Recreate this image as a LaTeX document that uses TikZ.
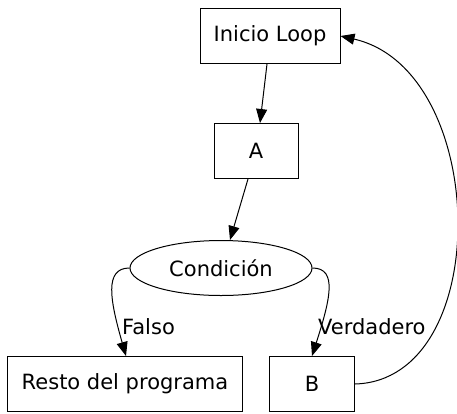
\documentclass[tikz,border=0pt]{standalone}
\usepackage{fontspec}
\setmainfont{DejaVu Sans}
\usetikzlibrary{shapes.geometric,arrows.meta}

\tikzset{
  box/.style={draw, line width=1pt, minimum height=55pt, inner sep=0pt},
  cond/.style={draw, ellipse, line width=1pt, minimum width=182pt, minimum height=55pt, inner sep=0pt},
  flow/.style={draw, line width=1pt, -{Triangle[length=14pt,width=11pt]}},
  lbl/.style={anchor=west, inner sep=0pt}
}

\begin{document}
\begin{tikzpicture}[x=1pt, y=-1pt, font=\fontsize{21}{25}\selectfont]

    \useasboundingbox (0,0) rectangle (457,413);

    \node[box, minimum width=140pt] (loop) at (270, 36) {Inicio Loop};
    \node[box, minimum width=84pt] (a) at (256, 151) {A};
    \node[cond] (cnd) at (221, 268) {Condición};
    \node[box, minimum width=235pt] (resto) at (125, 384) {Resto del programa};
    \node[box, minimum width=85pt] (b) at (312, 384) {B};

    \draw[flow] (loop.south -| 267, 0) -- (a.north -| 260, 0);
    \draw[flow] (a.south -| 248, 0) -- (cnd.north -| 230, 0);
    \draw[flow] (cnd.west) .. controls (104, 268) and (110, 300) .. (resto.north -| 126, 0);
    \draw[flow] (cnd.east) .. controls (338, 268) and (330, 300) .. (b.north);
    \draw[flow] (b.east) .. controls (495, 380) and (490, 70) .. (loop.east);

    \node[lbl] (falso) at (122, 327) {Falso};
    \node[lbl] (verd) at (318, 327) {Verdadero};

\end{tikzpicture}
\end{document}
